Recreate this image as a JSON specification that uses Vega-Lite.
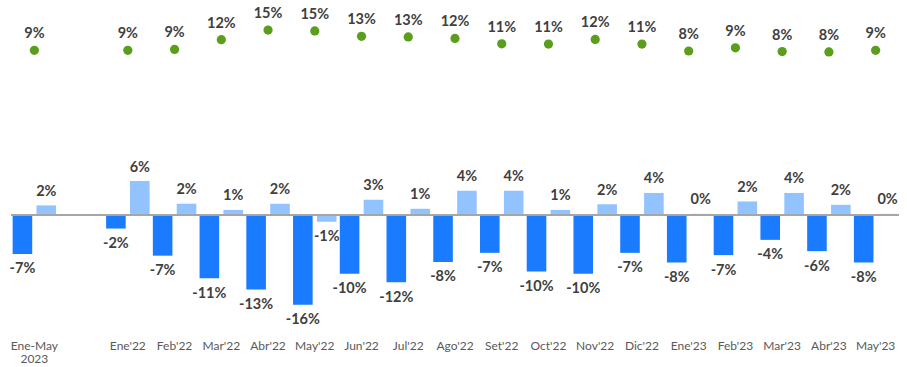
{
  "$schema": "https://vega.github.io/schema/vega-lite/v6.json",
  "autosize": {"type": "none"},
  "padding": {"left": 11, "top": 0, "right": 8, "bottom": 32},
  "width": 888,
  "height": 335,
  "config": {
    "view": {"stroke": null},
    "locale": {"number": {"decimal": ".", "thousands": ",", "grouping": [3], "currency": ["$", ""], "minus": "-", "percent": "%"}}
  },
  "datasets": {
    "bars": [
      {"cat": "Ene-May 2023", "serie": "A", "v": -0.069}, {"cat": "Ene-May 2023", "serie": "B", "v": 0.017},
      {"cat": "Ene'22", "serie": "A", "v": -0.024}, {"cat": "Ene'22", "serie": "B", "v": 0.060},
      {"cat": "Feb'22", "serie": "A", "v": -0.072}, {"cat": "Feb'22", "serie": "B", "v": 0.020},
      {"cat": "Mar'22", "serie": "A", "v": -0.112}, {"cat": "Mar'22", "serie": "B", "v": 0.009},
      {"cat": "Abr'22", "serie": "A", "v": -0.132}, {"cat": "Abr'22", "serie": "B", "v": 0.020},
      {"cat": "May'22", "serie": "A", "v": -0.159}, {"cat": "May'22", "serie": "B", "v": -0.012},
      {"cat": "Jun'22", "serie": "A", "v": -0.104}, {"cat": "Jun'22", "serie": "B", "v": 0.027},
      {"cat": "Jul'22", "serie": "A", "v": -0.119}, {"cat": "Jul'22", "serie": "B", "v": 0.011},
      {"cat": "Ago'22", "serie": "A", "v": -0.083}, {"cat": "Ago'22", "serie": "B", "v": 0.043},
      {"cat": "Set'22", "serie": "A", "v": -0.067}, {"cat": "Set'22", "serie": "B", "v": 0.043},
      {"cat": "Oct'22", "serie": "A", "v": -0.100}, {"cat": "Oct'22", "serie": "B", "v": 0.009},
      {"cat": "Nov'22", "serie": "A", "v": -0.104}, {"cat": "Nov'22", "serie": "B", "v": 0.019},
      {"cat": "Dic'22", "serie": "A", "v": -0.067}, {"cat": "Dic'22", "serie": "B", "v": 0.039},
      {"cat": "Ene'23", "serie": "A", "v": -0.084}, {"cat": "Ene'23", "serie": "B", "v": 0.002},
      {"cat": "Feb'23", "serie": "A", "v": -0.071}, {"cat": "Feb'23", "serie": "B", "v": 0.024},
      {"cat": "Mar'23", "serie": "A", "v": -0.044}, {"cat": "Mar'23", "serie": "B", "v": 0.039},
      {"cat": "Abr'23", "serie": "A", "v": -0.064}, {"cat": "Abr'23", "serie": "B", "v": 0.018},
      {"cat": "May'23", "serie": "A", "v": -0.084}, {"cat": "May'23", "serie": "B", "v": 0.002}
    ],
    "dots": [
      {"cat": "Ene-May 2023", "g": 0.086}, {"cat": "Ene'22", "g": 0.086}, {"cat": "Feb'22", "g": 0.089},
      {"cat": "Mar'22", "g": 0.120}, {"cat": "Abr'22", "g": 0.151}, {"cat": "May'22", "g": 0.148},
      {"cat": "Jun'22", "g": 0.131}, {"cat": "Jul'22", "g": 0.129}, {"cat": "Ago'22", "g": 0.124},
      {"cat": "Set'22", "g": 0.107}, {"cat": "Oct'22", "g": 0.106}, {"cat": "Nov'22", "g": 0.121},
      {"cat": "Dic'22", "g": 0.106}, {"cat": "Ene'23", "g": 0.084}, {"cat": "Feb'23", "g": 0.094},
      {"cat": "Mar'23", "g": 0.082}, {"cat": "Abr'23", "g": 0.081}, {"cat": "May'23", "g": 0.086}
    ]
  },
  "encoding": {
    "x": {
      "field": "cat", "type": "nominal", "sort": null,
      "scale": {"domain": ["Ene-May 2023", " ", "Ene'22", "Feb'22", "Mar'22", "Abr'22", "May'22", "Jun'22", "Jul'22", "Ago'22", "Set'22", "Oct'22", "Nov'22", "Dic'22", "Ene'23", "Feb'23", "Mar'23", "Abr'23", "May'23"], "paddingInner": 0, "paddingOuter": 0},
      "axis": {"title": null, "domain": false, "ticks": false, "labelAngle": 0, "labelPadding": 5, "labelFont": "Lato", "labelFontSize": 12, "labelColor": "#595959", "labelLineHeight": 13, "labelExpr": "datum.value == 'Ene-May 2023' ? ['Ene-May', '2023'] : datum.label"}
    }
  },
  "layer": [
    {
      "data": {"name": "bars"},
      "mark": {"type": "bar"},
      "encoding": {
        "xOffset": {"field": "serie", "type": "nominal", "scale": {"paddingInner": 0.18, "paddingOuter": 0.068}},
        "y": {"field": "v", "type": "quantitative", "scale": {"domain": [-0.2124, 0.3805], "nice": false, "zero": false}, "axis": null},
        "color": {"field": "serie", "type": "nominal", "scale": {"domain": ["A", "B"], "range": ["#1A7BFF", "#93C3FF"]}, "legend": null}
      }
    },
    {
      "data": {"name": "bars"},
      "mark": {"type": "rule", "color": "#A6A6A6", "strokeWidth": 1.5},
      "encoding": {
        "x": null,
        "y": {"datum": 0, "type": "quantitative", "scale": {"domain": [-0.2124, 0.3805], "nice": false, "zero": false}, "axis": null}
      }
    },
    {
      "data": {"name": "bars"},
      "transform": [{"filter": "datum.v < 0"}],
      "mark": {"type": "text", "font": "Lato", "fontWeight": "bold", "fontSize": 14.5, "color": "#404040", "baseline": "middle", "dy": 15.5},
      "encoding": {
        "xOffset": {"field": "serie", "type": "nominal", "scale": {"paddingInner": 0.18, "paddingOuter": 0.068}},
        "y": {"field": "v", "type": "quantitative", "scale": {"domain": [-0.2124, 0.3805], "nice": false, "zero": false}, "axis": null},
        "text": {"field": "v", "type": "quantitative", "format": ".0%"}
      }
    },
    {
      "data": {"name": "bars"},
      "transform": [{"filter": "datum.v >= 0"}],
      "mark": {"type": "text", "font": "Lato", "fontWeight": "bold", "fontSize": 14.5, "color": "#404040", "baseline": "middle", "dy": -13.5},
      "encoding": {
        "xOffset": {"field": "serie", "type": "nominal", "scale": {"paddingInner": 0.18, "paddingOuter": 0.068}},
        "y": {"field": "v", "type": "quantitative", "scale": {"domain": [-0.2124, 0.3805], "nice": false, "zero": false}, "axis": null},
        "text": {"field": "v", "type": "quantitative", "format": ".0%"}
      }
    },
    {
      "data": {"name": "dots"},
      "mark": {"type": "circle", "size": 85, "opacity": 1, "color": "#5A9E1C"},
      "encoding": {
        "y": {"field": "g", "type": "quantitative", "scale": {"domain": [-0.8234, 0.2469], "nice": false, "zero": false}, "axis": null}
      }
    },
    {
      "data": {"name": "dots"},
      "mark": {"type": "text", "font": "Lato", "fontWeight": "bold", "fontSize": 14.5, "color": "#404040", "baseline": "middle", "dy": -16},
      "encoding": {
        "y": {"field": "g", "type": "quantitative", "scale": {"domain": [-0.8234, 0.2469], "nice": false, "zero": false}, "axis": null},
        "text": {"field": "g", "type": "quantitative", "format": ".0%"}
      }
    }
  ],
  "resolve": {"scale": {"y": "independent", "xOffset": "shared"}}
}
